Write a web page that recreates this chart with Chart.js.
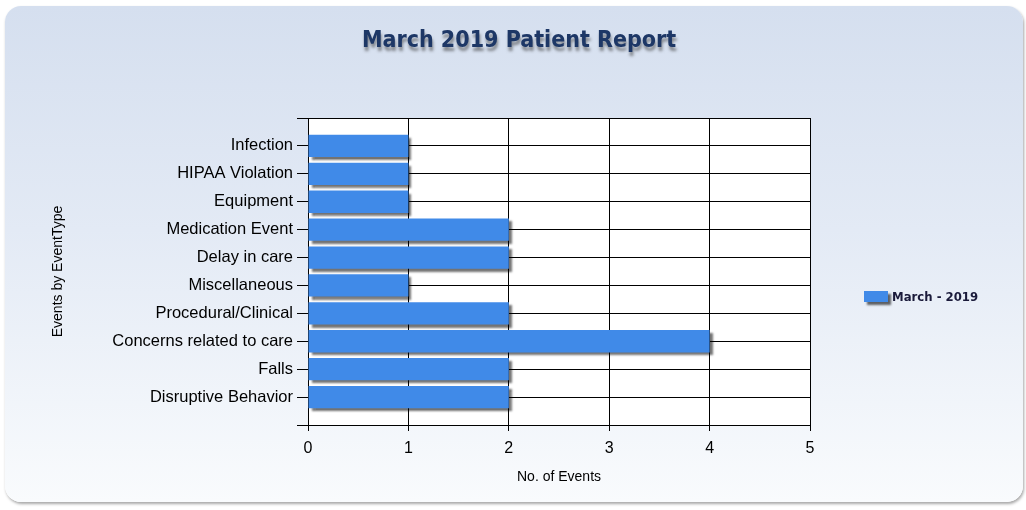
<!DOCTYPE html>
<html lang="en">
<head>
  <meta charset="UTF-8">
  <title>March 2019 Patient Report</title>
  <script src="https://cdn.jsdelivr.net/npm/chart.js"></script>
  <style>
    html, body { margin: 0; padding: 0; background: #ffffff; }
    #wrap { position: relative; width: 1026px; height: 510px; }
    #panel {
      position: absolute; left: 5px; top: 6px; width: 1018px; height: 496px;
      border-radius: 16px;
      background: linear-gradient(to bottom, #d5dfef 0%, #e3eaf5 45%, #f9fbfd 100%);
      box-shadow: 1px 2px 3px rgba(0,0,0,0.35);
    }
    canvas { position: absolute; left: 0; top: 0; }
  </style>
</head>
<body>
  <div id="wrap">
    <div id="panel"></div>
    <canvas id="eventChart" width="1026" height="510"></canvas>
  </div>

  <script>
    // chart data
    const eventTypes = ['Infection', 'HIPAA Violation', 'Equipment', 'Medication Event', 'Delay in care',
      'Miscellaneous', 'Procedural/Clinical', 'Concerns related to care', 'Falls', 'Disruptive Behavior'];
    const eventCounts = [1, 1, 1, 2, 2, 1, 2, 4, 2, 2];
    const seriesName = 'March - 2019';
    const xTicks = [0, 1, 2, 3, 4, 5];

    // one empty slot above and below, like the original
    const labels = [''].concat(eventTypes, ['']);
    const values = [null].concat(eventCounts, [null]);

    const barBlue = 'rgb(64, 138, 232)';

    // white plot area
    const plotBg = {
      id: 'plotBg',
      beforeDraw(chart) {
        const a = chart.chartArea;
        const c = chart.ctx;
        c.save();
        c.fillStyle = '#ffffff';
        c.fillRect(a.left, a.top, a.right - a.left, a.bottom - a.top);
        c.restore();
      }
    };

    // shadow under the bars
    const barShadow = {
      id: 'barShadow',
      beforeDatasetsDraw(chart) {
        const c = chart.ctx;
        c.save();
        c.shadowColor = 'rgba(0,0,0,0.55)';
        c.shadowOffsetX = 3;
        c.shadowOffsetY = 3;
        c.shadowBlur = 2;
      },
      afterDatasetsDraw(chart) {
        chart.ctx.restore();
      }
    };

    // title with its drop shadow and the legend on the right
    const extras = {
      id: 'extras',
      afterDraw(chart) {
        const c = chart.ctx;
        c.save();
        c.font = 'bold 23px "DejaVu Sans Condensed", "DejaVu Sans", sans-serif';
        c.textAlign = 'center';
        c.textBaseline = 'middle';
        c.shadowColor = 'rgba(60,60,60,0.55)';
        c.shadowOffsetX = 1;
        c.shadowOffsetY = 4;
        c.shadowBlur = 3;
        c.fillStyle = '#1d3766';
        c.fillText('March 2019 Patient Report', 519, 41);
        c.restore();

        // legend
        const ds = chart.data.datasets[0];
        c.save();
        c.shadowColor = 'rgba(0,0,0,0.6)';
        c.shadowOffsetX = 3;
        c.shadowOffsetY = 3;
        c.shadowBlur = 2;
        c.fillStyle = ds.backgroundColor;
        c.fillRect(864, 291, 24, 11);
        c.restore();
        c.save();
        c.font = 'bold 13px "DejaVu Sans Condensed", "DejaVu Sans", sans-serif';
        c.fillStyle = '#1a1a3a';
        c.textBaseline = 'middle';
        c.fillText(ds.label, 892, 298);
        c.restore();
      }
    };

    const ctx = document.getElementById('eventChart').getContext('2d');
    new Chart(ctx, {
      type: 'bar',
      data: {
        labels: labels,
        datasets: [{
          label: seriesName,
          data: values,
          backgroundColor: barBlue,
          borderWidth: 0,
          barPercentage: 0.8,
          categoryPercentage: 1.0
        }]
      },
      options: {
        indexAxis: 'y',
        responsive: false,
        animation: false,
        layout: { padding: { top: 118, right: 216, left: 0, bottom: 0 } },
        plugins: {
          legend: { display: false },
          title: { display: false },
          tooltip: { enabled: false }
        },
        scales: {
          x: {
            min: 0,
            max: 5,
            afterBuildTicks(scale) {
              scale.ticks = xTicks.map(v => ({ value: v }));
            },
            afterFit(scale) { scale.height = 85; },
            grid: { color: '#000000', lineWidth: 1, tickLength: 6 },
            border: { color: '#000000', width: 1 },
            ticks: {
              color: '#000000',
              padding: 8,
              font: { family: '"Liberation Sans", Arial, sans-serif', size: 16 }
            },
            title: {
              display: true,
              text: 'No. of Events',
              color: '#000000',
              padding: { top: 0, bottom: 24 },
              font: { family: '"Liberation Sans", Arial, sans-serif', size: 14 }
            }
          },
          y: {
            offset: false,
            afterFit(scale) { scale.width = 308; },
            grid: { color: '#000000', lineWidth: 1, tickLength: 11, offset: false },
            border: { color: '#000000', width: 1 },
            ticks: {
              color: '#000000',
              padding: 4,
              autoSkip: false,
              font: { family: '"Liberation Sans", Arial, sans-serif', size: 16.5 }
            },
            title: {
              display: true,
              text: 'Events by EventType',
              color: '#000000',
              padding: { top: 50, bottom: 0 },
              font: { family: '"Liberation Sans", Arial, sans-serif', size: 14 }
            }
          }
        }
      },
      plugins: [plotBg, barShadow, extras]
    });
  </script>
</body>
</html>
